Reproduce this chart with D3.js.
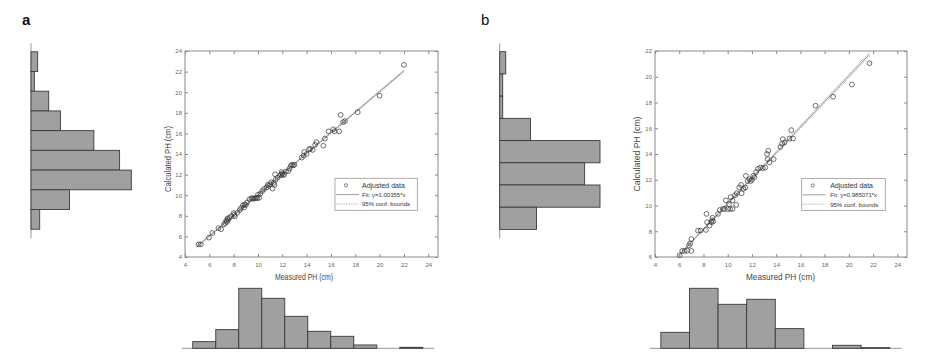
<!DOCTYPE html>
<html>
<head>
<meta charset="utf-8">
<script src="https://cdn.jsdelivr.net/npm/d3@7"></script>
<style>
  body { margin: 0; background: #fff; }
  svg { display: block; font-family: "Liberation Sans", Arial, sans-serif; }
</style>
</head>
<body>
<div id="chart"></div>
<script>
// tick labels
let tickX = [4, 6, 8, 10, 12, 14, 16, 18, 20, 22, 24];
let tickYa = [4, 6, 8, 10, 12, 14, 16, 18, 20, 22, 24];
let tickYb = [6, 8, 10, 12, 14, 16, 18, 20, 22];

// panel a: measured vs calculated PH
let measuredA = [5.12, 5.3, 5.97, 6.25, 6.75, 6.97, 7.2, 7.3, 7.4, 7.45, 7.5, 7.55, 7.65, 7.8, 8.0, 8.05, 8.1, 8.3,
  8.5, 8.6, 8.75, 8.85, 8.9, 9.0, 9.1, 9.3, 9.45, 9.55, 9.65, 9.75, 9.85, 9.95, 10.0, 10.1, 10.2, 10.35, 10.5,
  10.7, 10.8, 10.9, 11.0, 11.1, 11.2, 11.3, 11.35, 11.4, 11.45, 11.6, 11.8, 11.9, 11.95, 12.0, 12.05, 12.15,
  12.3, 12.5, 12.6, 12.7, 12.8, 12.9, 13.0, 13.6, 13.75, 13.8, 14.0, 14.2, 14.3, 14.5, 14.7, 14.8, 15.37, 15.5,
  15.8, 16.2, 16.3, 16.68, 16.8, 17.0, 17.15, 18.2, 20.0, 22.0];
let calculatedA = [5.23, 5.23, 5.88, 6.33, 6.8, 6.7, 7.15, 7.3, 7.55, 7.4, 7.75, 7.6, 7.8, 7.95, 8.25, 8.1, 7.95, 8.3,
  8.55, 8.75, 9.0, 8.8, 9.1, 9.05, 9.3, 9.6, 9.7, 9.7, 9.65, 9.7, 9.75, 9.7, 10.05, 9.75, 10.15, 10.4, 10.6,
  10.75, 11.0, 10.9, 11.05, 11.25, 10.65, 11.2, 11.0, 12.03, 11.5, 11.7, 11.9, 12.0, 12.25, 12.1, 11.95, 12.0,
  12.3, 12.35, 12.6, 12.85, 12.95, 12.9, 12.95, 13.65, 13.85, 14.2, 14.0, 14.45, 14.5, 14.4, 14.9, 15.15, 14.8, 15.5,
  16.2, 16.4, 16.2, 16.2, 17.8, 17.1, 17.2, 18.06, 19.66, 22.65];
let fitXA = [4.97, 22.0], fitYA = [5.0, 22.07];
let loXA = [4.97, 22.0], loYA = [4.95, 21.98];
let hiXA = [4.97, 22.0], hiYA = [5.05, 22.16];

// panel b
let measuredB = [6.03, 6.25, 6.45, 6.66, 7.0, 6.8, 6.9, 7.0, 7.55, 7.77, 8.2, 8.25, 8.3, 8.5, 8.65, 8.7, 8.75, 8.8,
  9.2, 9.35, 9.6, 9.73, 9.85, 10.0, 10.2, 10.4, 10.7, 10.1, 10.25, 10.4, 10.6, 10.75, 10.95, 11.1, 11.15, 11.3,
  11.45, 11.5, 11.65, 11.8, 11.9, 12.0, 12.1, 12.2, 12.35, 12.5, 12.7, 12.9, 13.1, 13.25, 13.3, 13.35, 13.45,
  13.8, 14.35, 14.5, 14.55, 14.7, 15.1, 15.25, 15.4, 17.25, 18.7, 20.25, 21.7];
let calculatedB = [6.13, 6.47, 6.47, 6.5, 6.47, 6.9, 7.05, 7.4, 8.05, 8.05, 8.1, 9.35, 8.7, 8.45, 8.7, 8.85, 9.05, 8.75,
  9.35, 9.65, 9.73, 9.73, 10.4, 9.73, 9.73, 9.73, 10.05, 10.1, 10.65, 10.4, 10.8, 10.95, 11.4, 11.6, 10.95, 11.3,
  11.4, 12.3, 11.9, 12.05, 11.9, 12.0, 12.3, 12.2, 12.6, 12.85, 12.95, 12.9, 12.95, 14.0, 13.6, 14.25, 13.35,
  13.6, 14.55, 14.8, 15.15, 14.9, 15.2, 15.85, 15.2, 17.75, 18.45, 19.4, 21.05];
let fitXB = [5.94, 21.7], fitYB = [6.1, 21.75];
let loXB = [5.94, 21.7], loYB = [6.05, 21.6];
let hiXB = [5.94, 21.7], hiYB = [6.15, 21.9];

// marginal histograms (relative frequency)
let histCalcA = [2, 1, 5.3, 8.8, 18.8, 26.5, 30, 11.5, 2.6];
let histMeasA = [2, 5.6, 18, 15, 9.6, 5.1, 3.6, 1, 0, 0.3];
let histCalcB = [1.8, 0.9, 0.9, 9.2, 30, 25.4, 30, 11];
let histMeasB = [4.8, 18, 13.2, 14.7, 5.9, 0, 0.9, 0.2];

let legendText = ["Adjusted data", "Fit: ", "95% conf. bounds"];

let svg = d3.select("#chart").append("svg")
  .attr("width", 945)
  .attr("height", 364);

let barFill = "#a0a0a0", barStroke = "#3a3a3a";

function scatterPanel(p) {
  let x = d3.scaleLinear().domain([4, 24.8]).range([p.left, p.right]);
  let y = d3.scaleLinear().domain(p.yDomain).range([p.bottom, p.top]);
  let g = svg.append("g");

  g.append("rect")
    .attr("x", p.left).attr("y", p.top)
    .attr("width", p.right - p.left).attr("height", p.bottom - p.top)
    .attr("fill", "none").attr("stroke", "#8a8a8a").attr("stroke-width", 1);

  let axes = [
    [d3.axisBottom(x).tickValues(tickX), p.bottom, 0, true],
    [d3.axisTop(x).tickValues(tickX), p.top, 0, false],
    [d3.axisLeft(y).tickValues(p.yTicks), 0, p.left, true],
    [d3.axisRight(y).tickValues(p.yTicks), 0, p.right, false]
  ];
  axes.forEach(a => {
    let ax = g.append("g")
      .attr("transform", "translate(" + a[2] + "," + a[1] + ")")
      .call(a[0].tickSize(-3).tickPadding(a[2] ? 3 : 6).tickFormat(a[3] ? d3.format("d") : ""));
    ax.select(".domain").remove();
    ax.selectAll("line").attr("stroke", "#8a8a8a");
    ax.selectAll("text").attr("fill", "#666").style("font-size", "6px");
  });

  // confidence bounds and fit line
  let line = d3.line().x(d => x(d[0])).y(d => y(d[1]));
  [[p.loX, p.loY], [p.hiX, p.hiY]].forEach(b => {
    g.append("path")
      .attr("d", line(d3.zip(b[0], b[1])))
      .attr("fill", "none").attr("stroke", "#aaa").attr("stroke-width", 0.8)
      .attr("stroke-dasharray", "1.5,1");
  });
  g.append("path")
    .attr("d", line(d3.zip(p.fitX, p.fitY)))
    .attr("fill", "none").attr("stroke", "#777").attr("stroke-width", 0.8);

  g.selectAll("circle.pt")
    .data(d3.zip(p.xs, p.ys))
    .enter()
    .append("circle")
    .attr("cx", d => x(d[0]))
    .attr("cy", d => y(d[1]))
    .attr("r", 2.4)
    .attr("fill", "none")
    .attr("stroke", "#333")
    .attr("stroke-width", 0.7);

  // axis titles
  g.append("text")
    .attr("x", p.xLabel[0]).attr("y", p.xLabel[1])
    .attr("text-anchor", "middle")
    .attr("textLength", p.xLabel[2]).attr("lengthAdjust", "spacingAndGlyphs")
    .attr("fill", "#444").style("font-size", p.labelSize + "px")
    .text("Measured PH (cm)");
  g.append("text")
    .attr("transform", "translate(" + p.yLabel[0] + "," + p.yLabel[1] + ") rotate(-90)")
    .attr("text-anchor", "middle")
    .attr("textLength", p.yLabel[2]).attr("lengthAdjust", "spacingAndGlyphs")
    .attr("fill", "#444").style("font-size", p.labelSize + "px")
    .text("Calculated PH (cm)");

  // legend
  let lg = g.append("g").attr("transform", "translate(" + p.legend[0] + "," + p.legend[1] + ")");
  lg.append("rect")
    .attr("width", p.legend[2]).attr("height", 32)
    .attr("fill", "#fff").attr("stroke", "#999").attr("stroke-width", 0.8);
  lg.append("circle").attr("cx", 11).attr("cy", 7).attr("r", 1.6)
    .attr("fill", "none").attr("stroke", "#333").attr("stroke-width", 0.6);
  lg.append("line").attr("x1", 1).attr("x2", 24).attr("y1", 16.3).attr("y2", 16.3)
    .attr("stroke", "#777").attr("stroke-width", 0.7);
  lg.append("line").attr("x1", 1).attr("x2", 24).attr("y1", 25.7).attr("y2", 25.7)
    .attr("stroke", "#aaa").attr("stroke-width", 0.8).attr("stroke-dasharray", "1.5,1");
  let labels = [legendText[0], legendText[1] + p.fitLabel, legendText[2]];
  lg.selectAll("text.lg")
    .data(labels)
    .enter()
    .append("text")
    .attr("x", p.legendTextX)
    .attr("y", (d, i) => 9.3 + i * 9.4)
    .attr("fill", "#333")
    .style("font-size", (d, i) => (i == 0 ? 7 : 6) + "px")
    .text(d => d);
}

function histBottom(h) {
  let x = d3.scaleLinear().domain(h.domain).range([h.x0, h.x1]);
  let hgt = d3.scaleLinear().domain([0, d3.max(h.values)]).range([h.base, h.base - 60]);
  let g = svg.append("g");
  g.append("line")
    .attr("x1", h.x0).attr("x2", h.x1).attr("y1", h.base).attr("y2", h.base)
    .attr("stroke", "#aaa").attr("stroke-width", 1.2);
  g.selectAll("rect")
    .data(h.values)
    .enter()
    .append("rect")
    .attr("x", (d, i) => x(i))
    .attr("y", d => hgt(d))
    .attr("width", (d, i) => x(i + 1) - x(i))
    .attr("height", d => h.base - hgt(d))
    .attr("fill", barFill)
    .attr("stroke", barStroke)
    .attr("stroke-width", 0.9);
}

function histLeft(h) {
  let y = d3.scaleLinear().domain(h.domain).range([43.3, 238.3]);
  let w = d3.scaleLinear().domain([0, d3.max(h.values)]).range([h.axis, h.axis + 100.3]);
  let g = svg.append("g");
  g.append("line")
    .attr("x1", h.axis).attr("x2", h.axis).attr("y1", 43.3).attr("y2", 238.3)
    .attr("stroke", "#999").attr("stroke-width", 1);
  g.selectAll("rect")
    .data(h.values)
    .enter()
    .append("rect")
    .attr("x", h.axis)
    .attr("y", (d, i) => y(i))
    .attr("width", d => w(d) - h.axis)
    .attr("height", (d, i) => y(i + 1) - y(i))
    .attr("fill", barFill)
    .attr("stroke", barStroke)
    .attr("stroke-width", 0.9);
}

scatterPanel({
  left: 185, right: 438, top: 51, bottom: 257, yDomain: [4, 24], yTicks: tickYa,
  xs: measuredA, ys: calculatedA, fitX: fitXA, fitY: fitYA,
  loX: loXA, loY: loYA, hiX: hiXA, hiY: hiYA,
  xLabel: [304, 280, 58], yLabel: [170.5, 159, 66], labelSize: 9.5,
  legend: [335, 178.3, 82.3], legendTextX: 27, fitLabel: "y=1.00355*x"
});
scatterPanel({
  left: 655, right: 907, top: 51, bottom: 257, yDomain: [6, 22], yTicks: tickYb,
  xs: measuredB, ys: calculatedB, fitX: fitXB, fitY: fitYB,
  loX: loXB, loY: loYB, hiX: hiXB, hiY: hiYB,
  xLabel: [780.5, 280, 69], yLabel: [639.5, 154, 75], labelSize: 9.5,
  legend: [801.7, 178.5, 83.6], legendTextX: 28.5, fitLabel: "y=0.985071*x"
});

histLeft({ values: histCalcA, domain: [-0.43, 9.46], axis: 31 });
histLeft({ values: histCalcB, domain: [-0.38, 8.4], axis: 499.7 });
histBottom({ values: histMeasA, domain: [-0.48, 10.5], x0: 181.7, x1: 434.3, base: 348.3 });
histBottom({ values: histMeasB, domain: [-0.38, 8.42], x0: 650, x1: 901.7, base: 348.3 });

// panel letters
svg.append("text").attr("x", 22).attr("y", 25).attr("fill", "#111")
  .style("font-size", "15px").style("font-weight", "bold").text("a");
svg.append("text").attr("x", 481).attr("y", 25).attr("fill", "#111")
  .style("font-size", "15px").text("b");
</script>
</body>
</html>
